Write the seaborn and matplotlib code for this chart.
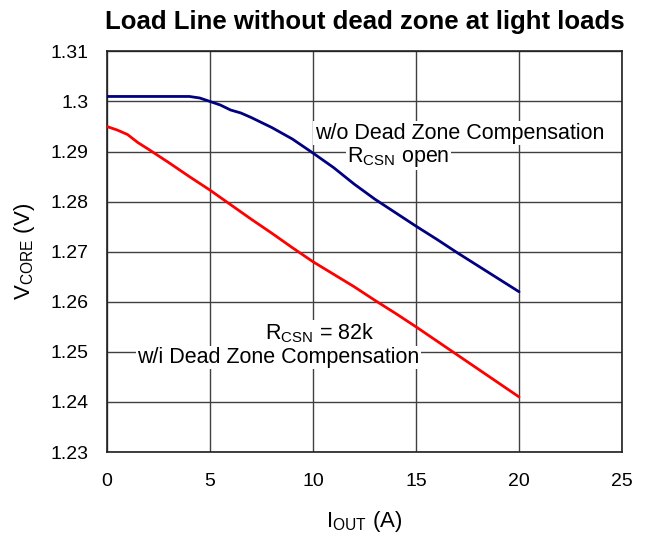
import matplotlib
matplotlib.use("Agg")
import matplotlib.pyplot as plt
import seaborn as sns
import pandas as pd

blue_x = [0, 1, 2, 3, 4, 4.5, 5, 5.5, 6, 6.5, 7, 8, 9, 10, 11, 12, 13, 14, 15, 16, 17, 18, 19, 20]
blue_y = [1.301, 1.301, 1.301, 1.301, 1.301, 1.3007, 1.3, 1.2993, 1.2983, 1.2977, 1.2968, 1.2948,
          1.2925, 1.2897, 1.2868, 1.2835, 1.2805, 1.2778, 1.2751, 1.2725, 1.2698, 1.2672, 1.2646, 1.262]
red_x = [0, 0.5, 1, 1.5, 2, 3, 4, 5, 6, 7, 8, 9, 10, 11, 12, 13, 14, 15, 16, 17, 18, 19, 20]
red_y = [1.295, 1.2943, 1.2934, 1.2918, 1.2905, 1.2878, 1.285, 1.2823, 1.2794, 1.2765, 1.2737,
         1.2708, 1.268, 1.2655, 1.263, 1.2603, 1.2577, 1.255, 1.2522, 1.2494, 1.2466, 1.2438, 1.241]
x_ticks = [0, 5, 10, 15, 20, 25]
y_ticks = [1.23, 1.24, 1.25, 1.26, 1.27, 1.28, 1.29, 1.30, 1.31]
y_tick_labels = ["1.23", "1.24", "1.25", "1.26", "1.27", "1.28", "1.29", "1.3", "1.31"]

sns.set_theme(style="white")
plt.rcParams["font.family"] = ["Liberation Sans", "DejaVu Sans"]
plt.rcParams["mathtext.fontset"] = "custom"
plt.rcParams["mathtext.rm"] = "Liberation Sans"
plt.rcParams["mathtext.it"] = "Liberation Sans"
plt.rcParams["text.color"] = "black"

fig = plt.figure(figsize=(6.48, 5.41), dpi=100)
ax = fig.add_axes([0.165, 0.1645, 0.795, 0.7405])

dfb = pd.DataFrame({"x": blue_x, "y": blue_y})
dfr = pd.DataFrame({"x": red_x, "y": red_y})
sns.lineplot(data=dfb, x="x", y="y", ax=ax, color="#000080", linewidth=2.0, zorder=3)
sns.lineplot(data=dfr, x="x", y="y", ax=ax, color="#ff0000", linewidth=2.0, zorder=3)

ax.set_xlim(0, 25)
ax.set_ylim(1.23, 1.31)
ax.set_xticks(x_ticks)
ax.set_yticks(y_ticks)
ax.set_yticklabels(y_tick_labels)
ax.grid(True, color="#404040", linewidth=1.0)
ax.set_axisbelow(True)
for s in ax.spines.values():
    s.set_color("#202020")
    s.set_linewidth(1.2)
ax.tick_params(axis="both", labelsize=14, colors="black", length=0)
ax.tick_params(axis="x", pad=15)
ax.tick_params(axis="y", pad=13)

ax.set_xlabel(r"I$_{\mathrm{OUT}}$ (A)", fontsize=16, labelpad=14, color="black")
ax.set_ylabel(r"V$_{\mathrm{CORE}}$ (V)", fontsize=16, labelpad=10, color="black")
ax.set_title("Load Line without dead zone at light loads", fontsize=18.5, fontweight="bold",
             pad=16, color="black")

bbox = dict(facecolor="white", edgecolor="none", pad=1)
fs = 15.5
ax.text(17.1, 1.2937, "w/o Dead Zone Compensation", fontsize=fs, ha="center", va="center",
        bbox=bbox, zorder=4, color="black")
ax.text(14.16, 1.2889, r"R$_{\mathrm{CSN}}$ open", fontsize=fs, ha="center", va="center",
        bbox=bbox, zorder=4, color="black")
ax.text(10.34, 1.2537, r"R$_{\mathrm{CSN}}$ = 82k", fontsize=fs, ha="center", va="center",
        bbox=bbox, zorder=4, color="black")
ax.text(8.33, 1.2489, "w/i Dead Zone Compensation", fontsize=fs, ha="center", va="center",
        bbox=bbox, zorder=4, color="black")

fig.savefig("out.png", dpi=100)
